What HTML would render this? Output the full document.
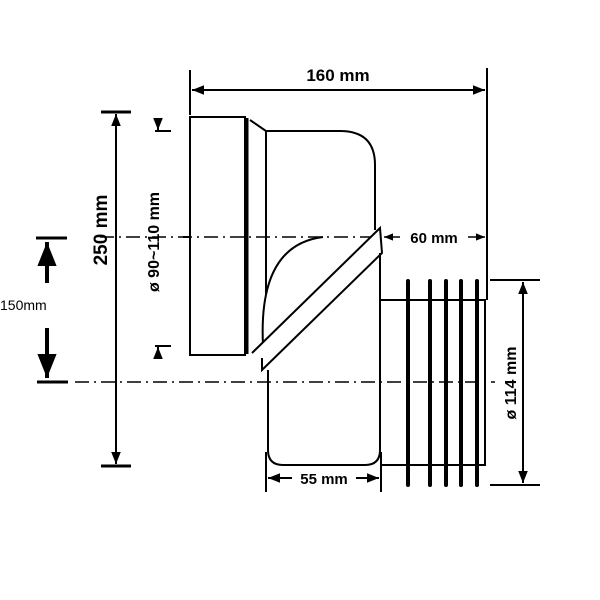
<!DOCTYPE html>
<html><head><style>body{margin:0;background:#fff}svg{display:block}</style></head><body>
<svg width="600" height="600" viewBox="0 0 600 600" xmlns="http://www.w3.org/2000/svg">
<defs>
<marker id="a" viewBox="0 0 10 10" refX="10" refY="5" markerWidth="6" markerHeight="6" orient="auto-start-reverse"><path d="M0,1 L10,5 L0,9z" fill="#000"/></marker>
</defs>
<g stroke="#000" stroke-width="2" fill="none">
<rect x="190" y="117" width="55" height="238" fill="#fff"/>
<line x1="247" y1="118" x2="247" y2="354" stroke-width="3"/>
<path d="M250,120 L266,131 L266,345"/>
<path d="M266,131 L340,131 Q375,131 375,165 L375,230"/>
<line x1="100" y1="237" x2="378" y2="237" stroke-width="1.5" stroke-dasharray="14,5,2,5"/>
<line x1="75" y1="382" x2="495" y2="382" stroke-width="1.5" stroke-dasharray="14,5,2,5"/>
<path d="M263,345 Q258,245 323,237" fill="#fff"/>
<path d="M252,353 L380,228 L382,253 L262,370 L262,358" fill="#fff"/>
<path d="M268,370 L268,450 Q268,465 283,465 L365,465 Q380,465 380,450 L380,253"/>
<path d="M380,300 L486,300 M487,300 L487,68 M485,300 L485,465 L380,465"/>
<g stroke-width="4" stroke-linecap="round">
<line x1="408" y1="281" x2="408" y2="485"/><line x1="430" y1="281" x2="430" y2="485"/><line x1="446" y1="281" x2="446" y2="485"/><line x1="461" y1="281" x2="461" y2="485"/><line x1="477" y1="281" x2="477" y2="485"/>
</g>
<line x1="190" y1="70" x2="190" y2="115"/>
<line x1="192" y1="90" x2="485" y2="90" marker-start="url(#a)" marker-end="url(#a)"/>
<line x1="384" y1="237" x2="400" y2="237" stroke-width="1.5" marker-start="url(#a)"/>
<line x1="468" y1="237" x2="485" y2="237" stroke-width="1.5" marker-end="url(#a)"/>
<line x1="490" y1="280" x2="540" y2="280"/><line x1="490" y1="485" x2="540" y2="485"/>
<line x1="523" y1="282" x2="523" y2="483" marker-start="url(#a)" marker-end="url(#a)"/>
<line x1="266" y1="452" x2="266" y2="492"/><line x1="381" y1="452" x2="381" y2="492"/>
<line x1="268" y1="478" x2="292" y2="478" marker-start="url(#a)"/>
<line x1="356" y1="478" x2="379" y2="478" marker-end="url(#a)"/>
<line x1="101" y1="112" x2="131" y2="112" stroke-width="3"/><line x1="101" y1="466" x2="131" y2="466" stroke-width="3"/>
<line x1="116" y1="114" x2="116" y2="464" marker-start="url(#a)" marker-end="url(#a)"/>
<line x1="36" y1="238" x2="67" y2="238" stroke-width="3"/><line x1="37" y1="382" x2="68" y2="382" stroke-width="3"/>
<line x1="47" y1="283" x2="47" y2="242" stroke-width="4" marker-end="url(#a)"/>
<line x1="47" y1="328" x2="47" y2="378" stroke-width="4" marker-end="url(#a)"/>
<line x1="155" y1="131" x2="171" y2="131"/><line x1="158" y1="120" x2="158" y2="130" marker-end="url(#a)"/>
<line x1="155" y1="346" x2="171" y2="346"/><line x1="158" y1="357" x2="158" y2="347" marker-end="url(#a)"/>
<line x1="183" y1="237" x2="190" y2="237"/>
</g>
<g font-family="Liberation Sans, sans-serif" font-weight="bold" font-size="17" fill="#000">
<text x="338" y="81" text-anchor="middle">160 mm</text>
<text x="434" y="243" text-anchor="middle" font-size="15">60 mm</text>
<text x="324" y="484" text-anchor="middle" font-size="15">55 mm</text>
<text transform="translate(107,230) rotate(-90)" text-anchor="middle" font-size="19">250 mm</text>
<text transform="translate(159,242) rotate(-90)" text-anchor="middle" font-size="16">ø 90~110 mm</text>
<text transform="translate(516,383) rotate(-90)" text-anchor="middle" font-size="16">ø 114 mm</text>
<text x="0" y="310" font-weight="normal" font-size="14">150mm</text>
</g>
</svg>
</body></html>
